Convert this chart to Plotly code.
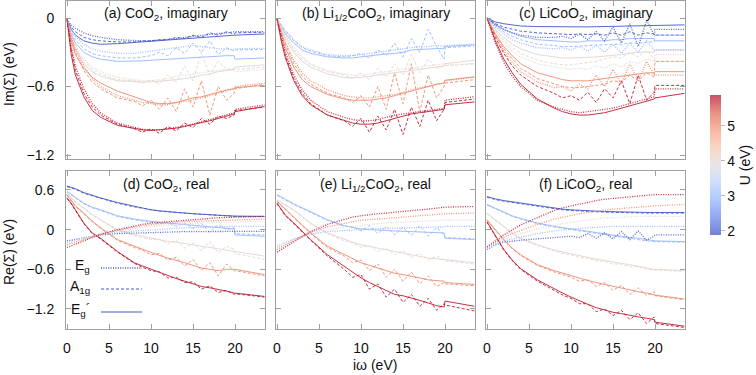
import plotly.graph_objects as go

# ---------------- data ----------------
W = [0, 0.5, 1, 2, 3, 4, 6, 8, 9, 10, 11, 12, 13, 14, 15, 16, 17, 18, 19, 19.9, 20, 23.5]
U_FULL = [2, 3, 4, 5, 5.75]
U_HALF = [3, 4, 5, 5.75]

# (a) CoO2 imaginary
a_eg = [
    [-0.01,-0.06,-0.09,-0.13,-0.155,-0.17,-0.19,-0.2,-0.2,-0.2,-0.195,-0.19,-0.18,-0.17,-0.16,-0.15,-0.14,-0.135,-0.13,-0.125,-0.12,-0.12],
    [-0.01,-0.1,-0.16,-0.23,-0.27,-0.29,-0.31,-0.31,-0.30,-0.29,-0.28,-0.27,-0.26,-0.25,-0.24,-0.25,-0.26,-0.27,-0.27,-0.28,-0.27,-0.265],
    [-0.01,-0.15,-0.24,-0.36,-0.43,-0.47,-0.52,-0.54,-0.55,-0.55,-0.54,-0.53,-0.51,-0.5,-0.49,-0.48,-0.47,-0.46,-0.45,-0.46,-0.47,-0.45],
    [-0.01,-0.16,-0.27,-0.42,-0.53,-0.6,-0.68,-0.72,-0.74,-0.75,-0.76,-0.76,-0.74,-0.73,-0.72,-0.70,-0.68,-0.66,-0.64,-0.62,-0.6,-0.57],
    [-0.01,-0.25,-0.42,-0.62,-0.75,-0.83,-0.92,-0.96,-0.975,-0.98,-0.98,-0.97,-0.96,-0.945,-0.93,-0.91,-0.89,-0.87,-0.85,-0.83,-0.8,-0.76],
]
a_a1g = [
    [-0.01,-0.08,-0.12,-0.17,-0.19,-0.2,-0.21,-0.21,-0.2,-0.2,-0.19,-0.19,-0.17,-0.18,-0.15,-0.17,-0.13,-0.15,-0.12,-0.14,-0.13,-0.125],
    [-0.01,-0.12,-0.19,-0.27,-0.31,-0.33,-0.35,-0.35,-0.34,-0.33,-0.3,-0.33,-0.26,-0.31,-0.22,-0.3,-0.2,-0.32,-0.26,-0.29,-0.28,-0.275],
    [-0.01,-0.16,-0.26,-0.38,-0.45,-0.49,-0.54,-0.55,-0.57,-0.54,-0.58,-0.5,-0.56,-0.42,-0.55,-0.3,-0.5,-0.38,-0.45,-0.44,-0.45,-0.43],
    [-0.01,-0.18,-0.3,-0.46,-0.56,-0.62,-0.7,-0.73,-0.77,-0.72,-0.8,-0.7,-0.82,-0.62,-0.78,-0.55,-0.85,-0.6,-0.72,-0.66,-0.62,-0.58],
    [-0.01,-0.28,-0.46,-0.66,-0.78,-0.85,-0.93,-0.97,-1.0,-0.97,-1.01,-0.95,-0.99,-0.92,-0.96,-0.88,-0.93,-0.86,-0.88,-0.85,-0.81,-0.78],
]
a_egp = [
    [-0.01,-0.10,-0.15,-0.20,-0.22,-0.23,-0.225,-0.215,-0.21,-0.205,-0.20,-0.195,-0.19,-0.18,-0.175,-0.17,-0.165,-0.16,-0.155,-0.15,-0.15,-0.14],
    [-0.01,-0.14,-0.22,-0.30,-0.34,-0.36,-0.38,-0.38,-0.375,-0.37,-0.365,-0.36,-0.355,-0.35,-0.345,-0.34,-0.34,-0.335,-0.33,-0.33,-0.36,-0.35],
    [-0.01,-0.18,-0.28,-0.40,-0.47,-0.51,-0.55,-0.56,-0.56,-0.56,-0.555,-0.55,-0.54,-0.53,-0.52,-0.50,-0.49,-0.47,-0.46,-0.45,-0.43,-0.41],
    [-0.01,-0.2,-0.32,-0.44,-0.52,-0.57,-0.64,-0.69,-0.72,-0.74,-0.75,-0.75,-0.74,-0.72,-0.70,-0.69,-0.67,-0.65,-0.63,-0.62,-0.61,-0.59],
    [-0.01,-0.32,-0.5,-0.69,-0.81,-0.87,-0.94,-0.97,-0.98,-0.985,-0.98,-0.975,-0.965,-0.95,-0.935,-0.915,-0.9,-0.88,-0.86,-0.84,-0.82,-0.775],
]

# (b) Li1/2CoO2 imaginary
b_eg = [
    [-0.01,-0.06,-0.11,-0.19,-0.25,-0.28,-0.32,-0.33,-0.33,-0.32,-0.31,-0.3,-0.29,-0.28,-0.27,-0.26,-0.25,-0.25,-0.24,-0.25,-0.24,-0.23],
    [-0.01,-0.08,-0.15,-0.26,-0.34,-0.4,-0.46,-0.49,-0.5,-0.5,-0.49,-0.48,-0.47,-0.46,-0.45,-0.44,-0.43,-0.42,-0.41,-0.4,-0.41,-0.4],
    [-0.01,-0.11,-0.21,-0.37,-0.48,-0.55,-0.63,-0.68,-0.69,-0.7,-0.7,-0.69,-0.68,-0.67,-0.65,-0.63,-0.61,-0.6,-0.58,-0.57,-0.55,-0.52],
    [-0.01,-0.16,-0.3,-0.5,-0.63,-0.72,-0.82,-0.87,-0.89,-0.9,-0.9,-0.89,-0.87,-0.85,-0.84,-0.83,-0.82,-0.81,-0.8,-0.79,-0.72,-0.69],
]
b_a1g = [
    [-0.01,-0.07,-0.12,-0.2,-0.26,-0.29,-0.33,-0.34,-0.33,-0.31,-0.35,-0.28,-0.33,-0.22,-0.34,-0.18,-0.3,-0.1,-0.25,-0.36,-0.26,-0.245],
    [-0.01,-0.09,-0.16,-0.28,-0.36,-0.41,-0.47,-0.5,-0.53,-0.48,-0.54,-0.44,-0.52,-0.4,-0.5,-0.32,-0.48,-0.36,-0.44,-0.42,-0.42,-0.4],
    [-0.01,-0.12,-0.23,-0.4,-0.51,-0.58,-0.66,-0.7,-0.74,-0.68,-0.78,-0.6,-0.8,-0.48,-0.75,-0.4,-0.82,-0.5,-0.7,-0.6,-0.57,-0.54],
    [-0.01,-0.18,-0.33,-0.53,-0.66,-0.75,-0.85,-0.9,-0.95,-0.88,-1.0,-0.86,-0.98,-0.8,-1.02,-0.78,-0.95,-0.72,-0.9,-0.8,-0.74,-0.71],
]
b_egp = [
    [-0.01,-0.08,-0.14,-0.22,-0.28,-0.31,-0.34,-0.35,-0.35,-0.34,-0.33,-0.32,-0.315,-0.31,-0.3,-0.28,-0.275,-0.27,-0.265,-0.265,-0.25,-0.235],
    [-0.01,-0.1,-0.18,-0.3,-0.38,-0.43,-0.49,-0.52,-0.525,-0.52,-0.51,-0.5,-0.49,-0.48,-0.47,-0.46,-0.45,-0.44,-0.43,-0.42,-0.4,-0.37],
    [-0.01,-0.14,-0.26,-0.43,-0.54,-0.6,-0.67,-0.71,-0.72,-0.72,-0.72,-0.71,-0.7,-0.68,-0.66,-0.64,-0.62,-0.6,-0.58,-0.57,-0.545,-0.515],
    [-0.01,-0.2,-0.35,-0.55,-0.68,-0.76,-0.85,-0.9,-0.92,-0.93,-0.93,-0.92,-0.9,-0.88,-0.86,-0.84,-0.83,-0.82,-0.81,-0.8,-0.76,-0.735],
]

# (c) LiCoO2 imaginary
c_eg = [
    [0,-0.03,-0.06,-0.1,-0.13,-0.15,-0.17,-0.17,-0.16,-0.18,-0.14,-0.19,-0.12,-0.2,-0.08,-0.22,-0.05,-0.25,-0.02,-0.15,-0.1,-0.1],
    [0,-0.04,-0.08,-0.14,-0.19,-0.22,-0.26,-0.27,-0.26,-0.28,-0.25,-0.29,-0.24,-0.3,-0.23,-0.31,-0.22,-0.3,-0.2,-0.28,-0.28,-0.28],
    [0,-0.06,-0.12,-0.21,-0.29,-0.34,-0.4,-0.43,-0.44,-0.45,-0.44,-0.45,-0.42,-0.44,-0.4,-0.43,-0.38,-0.4,-0.36,-0.38,-0.32,-0.32],
    [0,-0.08,-0.16,-0.29,-0.39,-0.47,-0.56,-0.61,-0.6,-0.64,-0.58,-0.62,-0.5,-0.6,-0.45,-0.58,-0.4,-0.55,-0.38,-0.5,-0.5,-0.5],
    [0,-0.11,-0.22,-0.39,-0.51,-0.6,-0.72,-0.78,-0.8,-0.82,-0.83,-0.82,-0.81,-0.8,-0.79,-0.77,-0.75,-0.73,-0.71,-0.69,-0.62,-0.62],
]
c_a1g = [
    [0,-0.025,-0.05,-0.08,-0.1,-0.115,-0.13,-0.14,-0.14,-0.145,-0.14,-0.145,-0.14,-0.15,-0.13,-0.15,-0.12,-0.15,-0.13,-0.14,-0.15,-0.15],
    [0,-0.035,-0.07,-0.12,-0.16,-0.19,-0.23,-0.24,-0.25,-0.25,-0.245,-0.24,-0.24,-0.235,-0.23,-0.23,-0.22,-0.22,-0.21,-0.21,-0.15,-0.15],
    [0,-0.055,-0.11,-0.19,-0.26,-0.31,-0.37,-0.4,-0.41,-0.41,-0.4,-0.39,-0.38,-0.36,-0.34,-0.35,-0.3,-0.34,-0.28,-0.36,-0.38,-0.38],
    [0,-0.075,-0.15,-0.27,-0.36,-0.44,-0.53,-0.58,-0.6,-0.61,-0.61,-0.6,-0.59,-0.58,-0.55,-0.56,-0.5,-0.55,-0.48,-0.52,-0.38,-0.38],
    [0,-0.08,-0.17,-0.31,-0.42,-0.5,-0.6,-0.66,-0.7,-0.68,-0.72,-0.65,-0.74,-0.62,-0.7,-0.55,-0.75,-0.5,-0.72,-0.65,-0.59,-0.59],
]
c_egp = [
    [0,-0.02,-0.035,-0.05,-0.06,-0.07,-0.075,-0.078,-0.08,-0.08,-0.08,-0.078,-0.076,-0.074,-0.072,-0.07,-0.068,-0.066,-0.064,-0.062,-0.062,-0.06],
    [0,-0.03,-0.06,-0.1,-0.13,-0.16,-0.19,-0.2,-0.21,-0.21,-0.21,-0.2,-0.2,-0.2,-0.19,-0.19,-0.18,-0.18,-0.18,-0.18,-0.2,-0.2],
    [0,-0.05,-0.1,-0.17,-0.23,-0.27,-0.32,-0.34,-0.35,-0.35,-0.35,-0.345,-0.34,-0.335,-0.33,-0.32,-0.31,-0.3,-0.3,-0.3,-0.28,-0.28],
    [0,-0.07,-0.14,-0.25,-0.33,-0.4,-0.48,-0.52,-0.54,-0.55,-0.55,-0.55,-0.54,-0.53,-0.52,-0.51,-0.5,-0.49,-0.48,-0.48,-0.47,-0.47],
    [0,-0.1,-0.2,-0.36,-0.48,-0.58,-0.71,-0.79,-0.82,-0.84,-0.85,-0.85,-0.84,-0.83,-0.81,-0.79,-0.77,-0.75,-0.73,-0.71,-0.7,-0.66],
]

# (d) CoO2 real
d_eg = [
    [-0.17,-0.16,-0.15,-0.12,-0.1,-0.08,-0.06,-0.05,-0.045,-0.04,-0.04,-0.035,-0.035,-0.03,-0.03,-0.03,-0.03,-0.025,-0.025,-0.025,-0.025,-0.025],
    [-0.18,-0.17,-0.155,-0.125,-0.1,-0.075,-0.04,-0.02,-0.01,0.0,0.01,0.015,0.02,0.025,0.03,0.035,0.04,0.04,0.045,0.045,0.05,0.05],
    [-0.2,-0.19,-0.17,-0.135,-0.1,-0.07,-0.02,0.02,0.04,0.05,0.06,0.07,0.08,0.09,0.095,0.1,0.105,0.11,0.115,0.12,0.12,0.13],
    [-0.23,-0.21,-0.19,-0.15,-0.11,-0.07,-0.01,0.04,0.06,0.075,0.09,0.1,0.11,0.12,0.125,0.13,0.135,0.14,0.145,0.15,0.15,0.16],
    [-0.27,-0.25,-0.22,-0.17,-0.12,-0.07,0.0,0.06,0.08,0.1,0.11,0.125,0.14,0.15,0.16,0.17,0.175,0.18,0.185,0.19,0.19,0.2],
]
d_a1g = [
    [0.65,0.63,0.61,0.55,0.51,0.47,0.4,0.345,0.32,0.3,0.28,0.27,0.26,0.245,0.24,0.23,0.225,0.215,0.21,0.2,0.2,0.2],
    [0.57,0.52,0.48,0.39,0.33,0.29,0.2,0.15,0.13,0.12,0.09,0.11,0.05,0.1,0.02,0.09,-0.04,0.08,0.0,0.03,-0.06,-0.08],
    [0.54,0.47,0.41,0.32,0.22,0.14,-0.01,-0.09,-0.12,-0.15,-0.14,-0.22,-0.16,-0.28,-0.2,-0.32,-0.18,-0.35,-0.25,-0.3,-0.36,-0.45],
    [0.52,0.43,0.35,0.24,0.12,0.02,-0.16,-0.27,-0.31,-0.38,-0.36,-0.46,-0.42,-0.55,-0.45,-0.62,-0.5,-0.7,-0.52,-0.62,-0.62,-0.7],
    [0.47,0.39,0.29,0.09,-0.06,-0.14,-0.34,-0.51,-0.57,-0.62,-0.64,-0.73,-0.72,-0.8,-0.79,-0.9,-0.85,-0.95,-0.92,-0.98,-0.97,-1.02],
]
d_egp = [
    [0.66,0.64,0.62,0.56,0.515,0.48,0.41,0.35,0.32,0.3,0.285,0.27,0.26,0.25,0.24,0.235,0.23,0.22,0.21,0.205,0.205,0.2],
    [0.58,0.53,0.49,0.4,0.34,0.3,0.21,0.16,0.14,0.125,0.11,0.1,0.09,0.08,0.065,0.05,0.04,0.03,0.02,0.01,-0.08,-0.1],
    [0.55,0.48,0.42,0.33,0.23,0.15,0.0,-0.075,-0.1,-0.125,-0.15,-0.18,-0.19,-0.21,-0.23,-0.25,-0.27,-0.28,-0.3,-0.32,-0.33,-0.4],
    [0.53,0.44,0.36,0.25,0.13,0.03,-0.15,-0.25,-0.3,-0.35,-0.39,-0.43,-0.46,-0.5,-0.54,-0.58,-0.6,-0.62,-0.6,-0.6,-0.6,-0.68],
    [0.48,0.4,0.3,0.1,-0.05,-0.13,-0.33,-0.5,-0.55,-0.6,-0.65,-0.7,-0.74,-0.78,-0.82,-0.86,-0.88,-0.9,-0.93,-0.96,-0.96,-1.01],
]

# (e) Li1/2CoO2 real
e_eg = [
    [-0.25,-0.22,-0.19,-0.14,-0.1,-0.07,-0.03,-0.01,0.0,0.005,0.01,0.015,0.02,0.02,0.025,0.03,0.03,0.035,0.04,0.04,0.05,0.05],
    [-0.28,-0.25,-0.21,-0.15,-0.1,-0.06,0.0,0.04,0.055,0.07,0.08,0.09,0.1,0.11,0.115,0.12,0.125,0.13,0.135,0.14,0.145,0.15],
    [-0.3,-0.27,-0.23,-0.16,-0.1,-0.04,0.04,0.1,0.12,0.14,0.15,0.16,0.17,0.18,0.19,0.2,0.21,0.22,0.225,0.23,0.24,0.25],
    [-0.34,-0.3,-0.26,-0.18,-0.1,-0.03,0.08,0.16,0.19,0.21,0.23,0.24,0.25,0.265,0.28,0.29,0.3,0.31,0.32,0.33,0.34,0.35],
]
e_a1g = [
    [0.52,0.49,0.45,0.38,0.32,0.26,0.14,0.05,0.04,-0.02,0.06,-0.06,0.05,-0.08,0.04,-0.09,0.06,-0.1,0.03,-0.08,-0.12,-0.14],
    [0.44,0.4,0.36,0.29,0.19,0.09,-0.06,-0.17,-0.2,-0.27,-0.24,-0.33,-0.28,-0.38,-0.32,-0.42,-0.36,-0.46,-0.4,-0.47,-0.47,-0.52],
    [0.42,0.36,0.3,0.19,0.06,-0.06,-0.27,-0.4,-0.5,-0.46,-0.62,-0.52,-0.72,-0.6,-0.78,-0.64,-0.82,-0.7,-0.86,-0.8,-0.82,-0.85],
    [0.39,0.29,0.21,0.09,-0.04,-0.16,-0.4,-0.6,-0.72,-0.68,-0.9,-0.82,-1.02,-0.9,-1.1,-0.98,-1.16,-1.04,-1.22,-1.12,-1.14,-1.23],
]
e_egp = [
    [0.53,0.5,0.46,0.39,0.33,0.27,0.15,0.06,0.03,0.01,0.0,-0.01,-0.015,-0.02,-0.025,-0.03,-0.035,-0.04,-0.045,-0.05,-0.13,-0.15],
    [0.45,0.41,0.37,0.3,0.2,0.1,-0.05,-0.15,-0.19,-0.23,-0.255,-0.28,-0.305,-0.33,-0.355,-0.38,-0.405,-0.43,-0.44,-0.45,-0.46,-0.5],
    [0.43,0.37,0.31,0.2,0.07,-0.05,-0.25,-0.38,-0.44,-0.5,-0.54,-0.58,-0.62,-0.66,-0.68,-0.7,-0.73,-0.76,-0.77,-0.78,-0.8,-0.83],
    [0.4,0.3,0.22,0.1,-0.03,-0.15,-0.38,-0.56,-0.65,-0.73,-0.8,-0.86,-0.92,-0.98,-1.0,-1.03,-1.07,-1.11,-1.15,-1.17,-1.08,-1.16],
]

# (f) LiCoO2 real
f_eg = [
    [-0.3,-0.26,-0.23,-0.19,-0.17,-0.16,-0.14,-0.12,-0.11,-0.1,-0.12,-0.06,-0.13,-0.05,-0.14,-0.03,-0.15,-0.02,-0.16,-0.1,-0.08,-0.08],
    [-0.29,-0.25,-0.22,-0.17,-0.14,-0.11,-0.06,-0.02,0.0,0.01,0.02,0.03,0.04,0.05,0.05,0.05,0.05,0.05,0.05,0.05,0.05,0.05],
    [-0.28,-0.24,-0.21,-0.15,-0.1,-0.06,0.01,0.07,0.09,0.11,0.13,0.15,0.16,0.18,0.18,0.19,0.19,0.2,0.2,0.2,0.2,0.2],
    [-0.27,-0.23,-0.19,-0.12,-0.06,-0.01,0.08,0.16,0.19,0.21,0.24,0.26,0.28,0.3,0.31,0.32,0.33,0.34,0.34,0.35,0.36,0.38],
    [-0.26,-0.21,-0.17,-0.08,0.0,0.07,0.18,0.29,0.33,0.36,0.39,0.42,0.44,0.46,0.47,0.49,0.5,0.51,0.52,0.53,0.53,0.53],
]
f_a1g = [
    [0.49,0.47,0.455,0.43,0.41,0.39,0.36,0.32,0.3,0.29,0.28,0.275,0.27,0.265,0.26,0.26,0.255,0.255,0.25,0.25,0.25,0.25],
    [0.37,0.34,0.31,0.25,0.2,0.16,0.09,0.04,0.02,0.01,-0.02,-0.03,-0.06,-0.07,-0.1,-0.11,-0.14,-0.15,-0.17,-0.18,-0.18,-0.19],
    [0.24,0.19,0.14,0.04,-0.06,-0.14,-0.24,-0.32,-0.36,-0.38,-0.42,-0.43,-0.47,-0.48,-0.52,-0.52,-0.56,-0.56,-0.6,-0.61,-0.61,-0.63],
    [0.14,0.07,-0.01,-0.16,-0.29,-0.39,-0.54,-0.64,-0.68,-0.72,-0.78,-0.76,-0.86,-0.8,-0.92,-0.84,-0.98,-0.88,-1.0,-0.94,-1.0,-1.06],
    [0.11,0.01,-0.09,-0.31,-0.47,-0.6,-0.78,-0.92,-0.99,-1.04,-1.12,-1.12,-1.24,-1.2,-1.3,-1.22,-1.36,-1.26,-1.42,-1.32,-1.42,-1.48],
]
f_egp = [
    [0.5,0.48,0.465,0.44,0.42,0.4,0.37,0.33,0.31,0.3,0.29,0.285,0.28,0.275,0.27,0.27,0.265,0.265,0.26,0.26,0.26,0.26],
    [0.38,0.35,0.32,0.26,0.21,0.17,0.1,0.05,0.03,0.02,0.0,-0.02,-0.04,-0.06,-0.08,-0.1,-0.12,-0.13,-0.15,-0.16,-0.17,-0.18],
    [0.25,0.2,0.15,0.05,-0.05,-0.13,-0.23,-0.31,-0.34,-0.37,-0.4,-0.42,-0.445,-0.47,-0.49,-0.51,-0.53,-0.55,-0.58,-0.6,-0.6,-0.62],
    [0.15,0.08,0.0,-0.15,-0.28,-0.38,-0.53,-0.62,-0.66,-0.7,-0.74,-0.77,-0.8,-0.83,-0.86,-0.88,-0.91,-0.94,-0.96,-0.98,-0.99,-1.05],
    [0.12,0.02,-0.08,-0.3,-0.46,-0.59,-0.76,-0.9,-0.96,-1.02,-1.08,-1.13,-1.18,-1.22,-1.25,-1.27,-1.3,-1.32,-1.34,-1.36,-1.4,-1.46],
]

TITLES = ["(a) CoO<sub>2</sub>, imaginary", "(b) Li<sub>1/2</sub>CoO<sub>2</sub>, imaginary",
          "(c) LiCoO<sub>2</sub>, imaginary", "(d) CoO<sub>2</sub>, real",
          "(e) Li<sub>1/2</sub>CoO<sub>2</sub>, real", "(f) LiCoO<sub>2</sub>, real"]
X_TICKS = [0, 5, 10, 15, 20]
Y_TICKS_TOP = [0, -0.6, -1.2]
Y_TICKS_BOT = [0.6, 0, -0.6, -1.2]
CB_TICKS = [2, 3, 4, 5]
CB_MIN, CB_MAX = 1.875, 5.875

PANELS = [
    (U_FULL, a_eg, a_a1g, a_egp), (U_HALF, b_eg, b_a1g, b_egp), (U_FULL, c_eg, c_a1g, c_egp),
    (U_FULL, d_eg, d_a1g, d_egp), (U_HALF, e_eg, e_a1g, e_egp), (U_FULL, f_eg, f_a1g, f_egp),
]
for pi, (us, *sets) in enumerate(PANELS):
    for s in sets:
        for r in s:
            if len(r) != len(W):
                raise ValueError(f"panel {pi} bad length {len(r)}")

# ---------------- styling ----------------
CW = [(0.0, (59, 76, 192)), (0.125, (98, 130, 234)), (0.25, (141, 176, 254)),
      (0.375, (184, 208, 249)), (0.5, (221, 220, 220)), (0.625, (245, 196, 173)),
      (0.75, (244, 154, 123)), (0.875, (222, 96, 77)), (1.0, (180, 4, 38))]


def cw(t, fade=0.0):
    t = min(max(t, 0), 1)
    for (t0, c0), (t1, c1) in zip(CW[:-1], CW[1:]):
        if t <= t1:
            f = (t - t0) / (t1 - t0)
            c = [c0[i] + f * (c1[i] - c0[i]) for i in range(3)]
            break
    c = [v * (1 - fade) + 255 * fade for v in c]
    return "rgb(%d,%d,%d)" % tuple(int(round(v)) for v in c)


def ucol(u, fade=0.0):
    return cw((u - CB_MIN) / (CB_MAX - CB_MIN), fade)


FONT = "Liberation Sans, Arial, sans-serif"
FW, FH = 756, 375
XDOM = [(66, 265), (276, 475), (486, 685)]
YDOM = [(1, 159), (171, 329)]
FRAME = "#a0a0a0"

fig = go.Figure()
STYLES = [dict(width=1.3, dash="1px,1.4px"), dict(width=1, dash="3px,2px"), dict(width=1, dash="solid")]

for pi, (us, eg, a1g, egp) in enumerate(PANELS):
    ax = "" if pi == 0 else str(pi + 1)
    for si, s in enumerate([egp, a1g, eg]):
        st = STYLES[[2, 1, 0][si]]
        for u, vals in zip(us, s):
            fig.add_trace(go.Scatter(
                x=W, y=vals, mode="lines",
                line=dict(color=ucol(u), width=st["width"], dash=st["dash"]),
                opacity=0.9, showlegend=False, hoverinfo="skip",
                xaxis="x" + ax, yaxis="y" + ax))

# colorbar carrier
cb_scale = [[i / 8, cw(i / 8, 0.3)] for i in range(9)]
fig.add_trace(go.Scatter(
    x=[None], y=[None], mode="markers", showlegend=False, hoverinfo="skip",
    marker=dict(color=[CB_MIN], cmin=CB_MIN, cmax=CB_MAX, colorscale=cb_scale, showscale=True,
                colorbar=dict(x=700 / FW, xanchor="left", xref="paper", y=1 - 165 / FH, yanchor="middle",
                              len=160 / FH, lenmode="fraction", thickness=11, thicknessmode="pixels",
                              outlinewidth=0, ticks="outside", ticklen=4, tickcolor="#bbbbbb",
                              tickvals=CB_TICKS, tickfont=dict(size=14, color="#111", family=FONT),
                              title=dict(text="U (eV)", side="right", font=dict(size=14, color="#111", family=FONT)))),
))

layout = dict(width=FW, height=FH, margin=dict(l=0, r=0, t=0, b=0, autoexpand=False),
              paper_bgcolor="white", plot_bgcolor="white", font=dict(family=FONT, size=14, color="#111"))
for pi in range(6):
    row, col = divmod(pi, 3)
    k = "" if pi == 0 else str(pi + 1)
    x0, x1 = XDOM[col]
    y0, y1 = YDOM[row]
    layout["xaxis" + k] = dict(domain=[x0 / FW, x1 / FW], anchor="y" + k, range=[-0.12, 23.57],
                               tickvals=X_TICKS, showticklabels=(row == 1), ticks="inside", ticklen=5,
                               tickcolor=FRAME, showline=True, linecolor=FRAME, mirror="ticks",
                               showgrid=False, zeroline=False, ticklabelstandoff=6,
                               tickfont=dict(size=14, color="#111"))
    yr = [-1.235, 0.149] if row == 0 else [-1.503, 0.887]
    layout["yaxis" + k] = dict(domain=[1 - y1 / FH, 1 - y0 / FH], anchor="x" + k, range=yr,
                               tickvals=Y_TICKS_TOP if row == 0 else Y_TICKS_BOT,
                               showticklabels=(col == 0), ticks="inside", ticklen=5,
                               tickcolor=FRAME, showline=True, linecolor=FRAME, mirror="ticks",
                               showgrid=False, zeroline=False, ticklabelstandoff=8,
                               tickfont=dict(size=14, color="#111"))
fig.update_layout(**layout)

ann = []
for pi, t in enumerate(TITLES):
    row, col = divmod(pi, 3)
    x0, x1 = XDOM[col]
    yc = 14 if row == 0 else 185
    ann.append(dict(text=t, x=(x0 + x1) / 2 / FW, y=1 - yc / FH, xref="paper", yref="paper",
                    xanchor="center", yanchor="middle", showarrow=False, font=dict(size=14)))
ann.append(dict(text="Im(Σ) (eV)", x=9 / FW, y=1 - 74 / FH, xref="paper", yref="paper", textangle=-90,
                xanchor="center", yanchor="middle", showarrow=False, font=dict(size=14)))
ann.append(dict(text="Re(Σ) (eV)", x=9 / FW, y=1 - 252 / FH, xref="paper", yref="paper", textangle=-90,
                xanchor="center", yanchor="middle", showarrow=False, font=dict(size=14)))
ann.append(dict(text="iω (eV)", x=375 / FW, y=1 - 365 / FH, xref="paper", yref="paper",
                xanchor="center", yanchor="middle", showarrow=False, font=dict(size=14)))

LEG = [("E<sub>g</sub>", 268, STYLES[0]), ("A<sub>1g</sub>", 289, STYLES[1]), ("E<sub>g</sub>´", 312, STYLES[2])]
shapes = []
for txt, yp, st in LEG:
    ann.append(dict(text=txt, x=92 / FW, y=1 - (yp - 2) / FH, xref="paper", yref="paper",
                    xanchor="right", yanchor="middle", showarrow=False, font=dict(size=14)))
    shapes.append(dict(type="line", xref="paper", yref="paper", x0=101 / FW, x1=142 / FW,
                       y0=1 - yp / FH, y1=1 - yp / FH,
                       line=dict(color=ucol(2.0), width=st["width"], dash=st["dash"])))
fig.update_layout(annotations=ann, shapes=shapes)

fig.write_html("out.html")
